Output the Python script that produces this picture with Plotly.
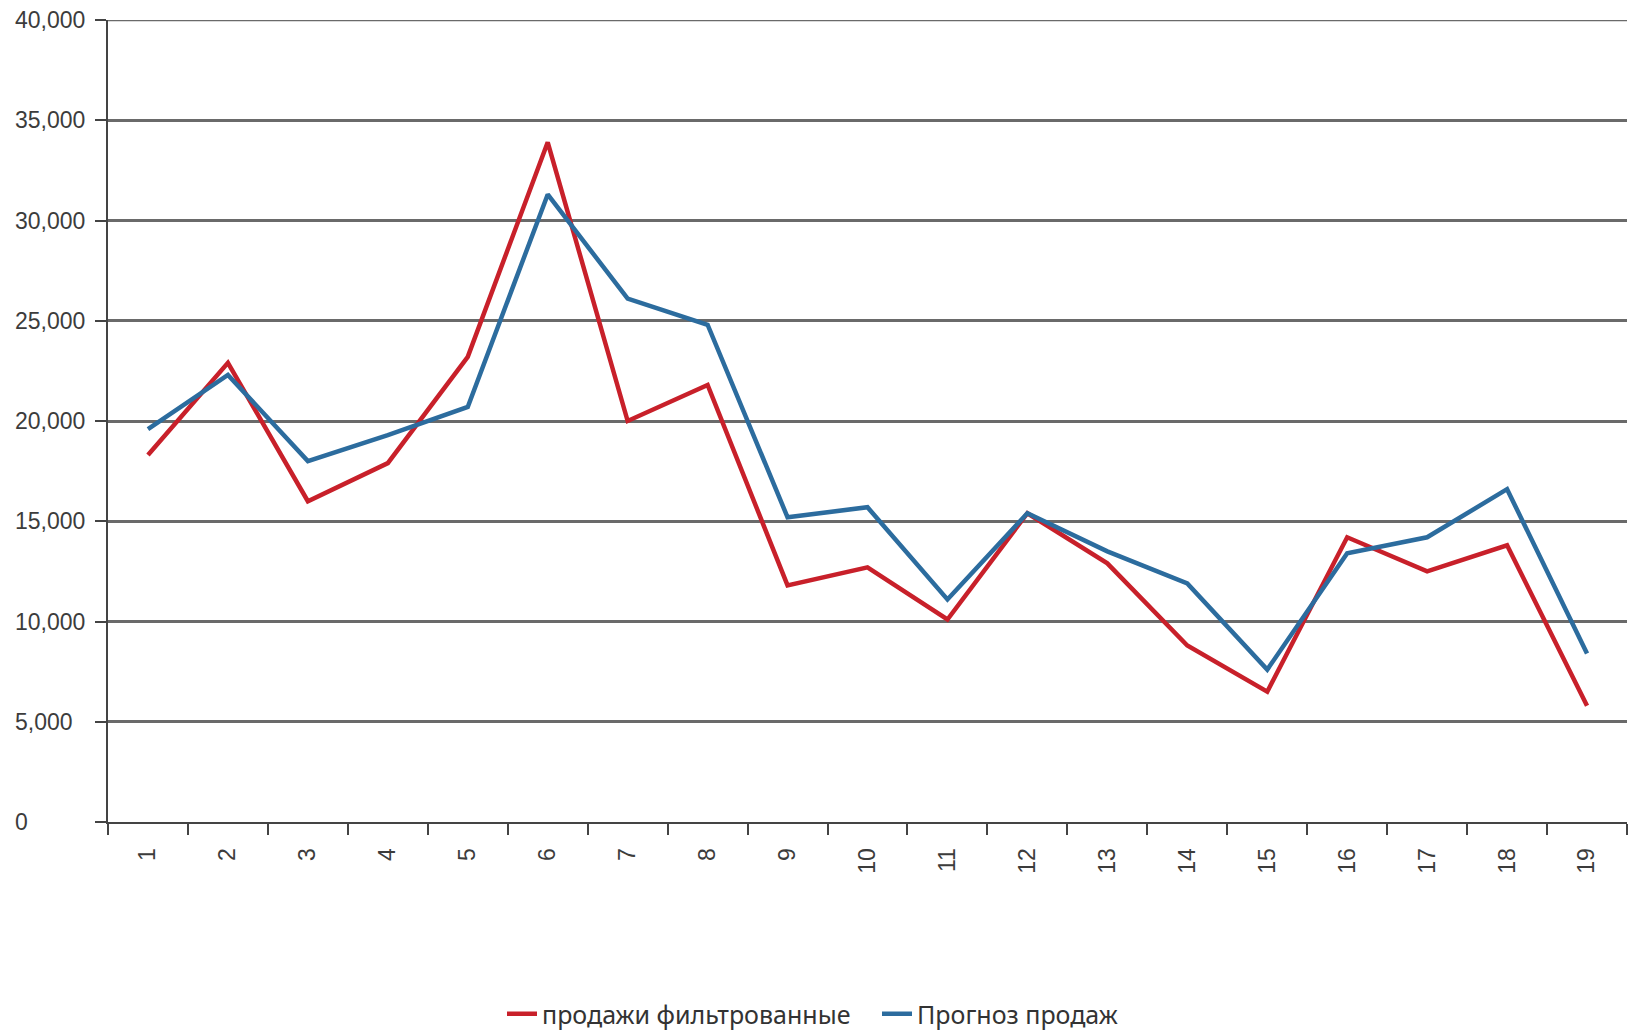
import plotly.graph_objects as go

# Periods 1..19 on the category axis
periods = [str(i) for i in range(1, 20)]

# Filtered sales and sales forecast per period
sales_filtered = [18300, 22900, 16000, 17900, 23200, 33900, 20000, 21800, 11800, 12700,
                  10100, 15400, 12900, 8800, 6500, 14200, 12500, 13800, 5800]
sales_forecast = [19600, 22300, 18000, 19300, 20700, 31300, 26100, 24800, 15200, 15700,
                  11100, 15400, 13500, 11900, 7600, 13400, 14200, 16600, 8400]

# Value axis ticks
y_ticks = [0, 5000, 10000, 15000, 20000, 25000, 30000, 35000, 40000]
y_tick_labels = ["0", "5,000", "10,000", "15,000", "20,000", "25,000", "30,000", "35,000", "40,000"]

series_names = ["продажи фильтрованные", "Прогноз продаж"]
series_colors = ["#c8202a", "#2c6c9e"]

fig = go.Figure()
for name, values, color in zip(series_names, [sales_filtered, sales_forecast], series_colors):
    fig.add_trace(go.Scatter(
        x=periods, y=values, mode="lines", name=name,
        line=dict(color=color, width=4.5),
    ))

W, H = 1634, 1031
L, R, T, B = 108, 7, 20, 209
plot_w = W - L - R
plot_h = H - T - B
grid_color = "#6a6a6a"

# Left-aligned value labels next to the y axis
for v, txt in zip(y_ticks, y_tick_labels):
    fig.add_annotation(
        x=-(L - 13) / plot_w, xref="paper", y=v, yref="y",
        text=txt, showarrow=False, xanchor="left", yanchor="middle",
        font=dict(family="Liberation Sans, Arial, sans-serif", size=23, color="#3c3c3c"),
    )

# Top gridline sits on the edge of the plot area, so draw it explicitly
fig.add_shape(type="line", xref="paper", x0=0, x1=1, yref="y", y0=y_ticks[-1], y1=y_ticks[-1],
              line=dict(color=grid_color, width=2.5), layer="below")

fig.update_layout(
    width=W, height=H,
    margin=dict(l=L, r=R, t=T, b=B, pad=0, autoexpand=False),
    paper_bgcolor="white", plot_bgcolor="white",
    showlegend=True,
    legend=dict(
        orientation="h", x=(877 - L) / plot_w, xanchor="center",
        y=(plot_h + T - 1014) / plot_h, yanchor="middle",
        entrywidth=330, entrywidthmode="pixels",
        font=dict(family="Noto Sans, sans-serif", size=25, color="#333333"),
        bgcolor="rgba(0,0,0,0)",
    ),
    xaxis=dict(
        type="category", tickson="boundaries", range=[-0.5, len(periods) - 0.5],
        ticks="outside", ticklen=11, tickwidth=2, tickcolor="#444444",
        showline=True, linecolor="#444444", linewidth=2,
        showgrid=False, zeroline=False,
        tickangle=-90, ticklabelstandoff=15,
        tickfont=dict(family="Liberation Sans, Arial, sans-serif", size=23, color="#3c3c3c"),
    ),
    yaxis=dict(
        range=[0, 40000], tickvals=y_ticks, showticklabels=False,
        ticks="outside", ticklen=11, tickwidth=2, tickcolor="#444444",
        showline=True, linecolor="#444444", linewidth=2,
        showgrid=True, gridcolor=grid_color, gridwidth=2.5,
        zeroline=False,
    ),
)

fig.write_html("out.html")
